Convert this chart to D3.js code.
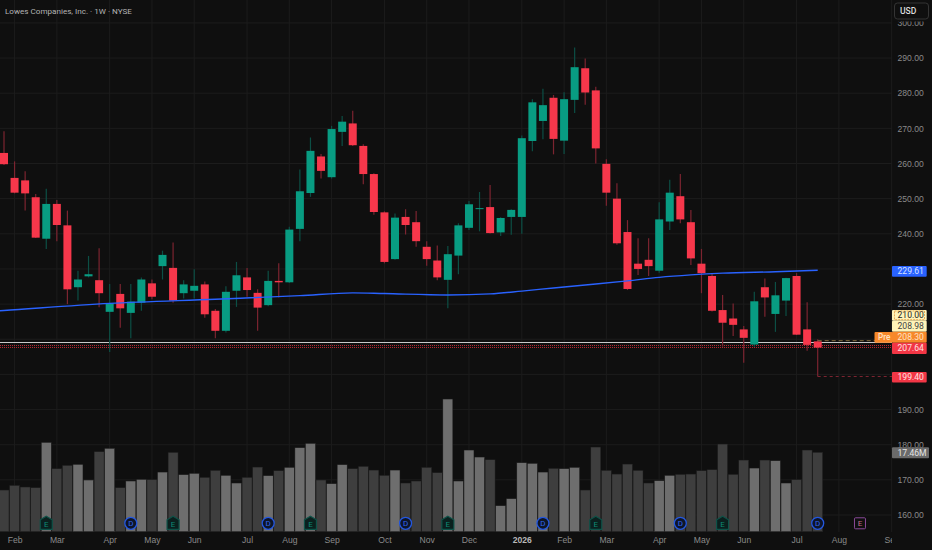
<!DOCTYPE html>
<html>
<head>
<meta charset="utf-8">
<title>Lowes Companies, Inc. 1W</title>
<style>
  html, body { margin: 0; padding: 0; background: #0f0f0f; overflow: hidden; }
  svg { display: block; font-family: Roboto, sans-serif; }
  .axis text { fill: #8a8a8a; font-size: 8.6px; }
</style>
</head>
<body>
<div id="container"></div>
<script src="https://cdn.jsdelivr.net/npm/d3@7/dist/d3.min.js"></script>
<script>
// weekly candles
const opens = [
  263.0, 255.9, 255.2, 250.4, 238.6, 248.5, 242.4, 224.8, 227.9, 226.8,
  217.8, 222.9, 217.5, 220.4, 225.9, 230.8, 230.3, 223.1, 223.8, 225.6,
  218.1, 212.4, 223.8, 227.6, 223.2, 219.7, 226.6, 226.2, 241.4, 251.6,
  262.0, 256.1, 269.0, 271.4, 265.0, 257.0, 246.1, 232.8, 244.8, 243.3,
  236.3, 232.4, 226.9, 233.8, 241.7, 247.1, 247.6, 240.4, 244.8, 244.8,
  266.4, 272.1, 278.7, 266.5, 278.1, 287.1, 280.8, 259.9, 250.0, 240.5,
  231.5, 232.6, 229.5, 243.5, 250.7, 243.3, 231.5, 228.0, 218.3, 215.9,
  212.8, 208.5, 224.8, 217.2, 221.0, 228.0, 212.8, 209.4
];
const highs = [
  269.2, 260.6, 257.8, 251.3, 252.8, 249.6, 246.6, 229.5, 233.7, 235.9,
  225.7, 225.7, 225.7, 227.6, 227.0, 235.2, 237.5, 226.8, 229.9, 226.4,
  218.6, 225.1, 232.0, 230.3, 224.2, 229.5, 231.6, 242.0, 258.3, 267.4,
  262.7, 270.7, 273.5, 275.0, 265.5, 257.2, 246.4, 245.8, 247.0, 246.5,
  237.9, 236.7, 236.5, 243.0, 249.3, 251.9, 253.9, 244.7, 247.0, 268.0,
  278.3, 281.3, 279.5, 280.3, 293.0, 289.9, 281.8, 261.2, 254.4, 243.9,
  238.7, 238.7, 249.0, 255.4, 257.0, 246.8, 235.7, 228.8, 222.6, 220.2,
  213.8, 223.5, 227.3, 226.3, 227.5, 228.8, 220.5, 210.0
];
const lows = [
  259.6, 251.5, 246.6, 238.8, 235.7, 237.9, 220.0, 221.0, 227.6, 219.1,
  206.4, 213.3, 210.3, 218.1, 221.4, 227.0, 220.4, 221.6, 221.6, 216.1,
  210.3, 211.9, 219.2, 222.1, 212.4, 219.4, 221.9, 226.0, 237.9, 250.5,
  255.7, 255.7, 265.0, 265.0, 254.1, 245.4, 231.6, 232.6, 239.8, 236.3,
  230.9, 226.8, 218.8, 228.5, 241.1, 240.7, 240.1, 239.4, 239.7, 240.0,
  263.5, 266.9, 262.6, 262.7, 274.4, 276.7, 260.0, 248.0, 236.9, 224.0,
  228.3, 228.0, 228.9, 241.1, 243.0, 231.1, 223.1, 217.9, 207.9, 210.9,
  203.3, 207.9, 216.4, 212.1, 216.6, 211.2, 206.7, 199.4
];
const closes = [
  259.8, 251.7, 251.5, 238.9, 248.5, 242.5, 224.2, 227.0, 228.5, 223.1,
  220.2, 218.8, 220.7, 227.0, 222.1, 234.0, 221.0, 225.6, 225.2, 217.1,
  212.4, 223.5, 228.2, 224.0, 219.0, 226.6, 226.2, 241.2, 252.1, 263.6,
  257.9, 269.8, 271.9, 265.2, 257.0, 246.2, 232.0, 244.6, 242.5, 237.9,
  232.8, 227.6, 234.2, 242.4, 248.4, 247.3, 240.2, 244.5, 246.8, 267.2,
  277.4, 276.6, 267.0, 278.3, 287.4, 280.2, 264.3, 251.7, 237.3, 224.3,
  230.0, 230.8, 244.1, 251.7, 244.1, 233.0, 228.8, 218.1, 214.7, 214.1,
  210.4, 220.8, 221.9, 222.5, 227.4, 211.3, 208.4, 207.64
];
// volume in millions
const volumes = [
  9.16, 10.18, 9.82, 9.67, 19.63, 13.85, 14.58, 14.8, 11.36, 17.58,
  18.32, 9.67, 11.14, 11.5, 11.43, 13.11, 17.44, 12.53, 12.82, 11.94,
  13.48, 12.38, 10.7, 11.94, 14.21, 12.31, 13.41, 14.14, 18.46, 19.41,
  11.36, 10.55, 14.73, 13.85, 14.36, 13.55, 12.38, 13.55, 10.7, 11.14,
  14.14, 12.97, 29.16, 11.14, 17.95, 16.41, 15.82, 5.71, 7.25, 15.16,
  15.02, 13.11, 13.92, 13.85, 14.14, 9.16, 18.61, 13.48, 12.67, 14.87,
  13.48, 10.7, 11.21, 12.38, 12.6, 12.67, 13.41, 13.63, 19.27, 12.6,
  15.75, 13.99, 15.75, 15.6, 10.7, 11.43, 17.95, 17.46
];

// moving average, read at a few weeks
const maWeeks = [-1, 0, 10, 20, 28, 33, 36, 42, 46, 49, 52, 56, 59, 62, 65, 68, 73, 77];
const maValues = [218.0, 218.2, 220.2, 221.4, 222.4, 223.2, 223.0, 222.6, 222.9, 223.7, 224.6, 225.7, 226.6, 227.6, 228.3, 228.8, 229.2, 229.61];

const priceTicks = [160, 170, 180, 190, 220, 240, 250, 260, 270, 280, 290, 300];
const gridPrices = [160, 170, 180, 190, 200, 210, 220, 230, 240, 250, 260, 270, 280, 290, 300];

const timeWeeks = [1, 5, 10, 14, 18, 23, 27, 31, 36, 40, 44, 49, 53, 57, 62, 66, 70, 75, 79, 84];
const timeLabels = ["Feb", "Mar", "Apr", "May", "Jun", "Jul", "Aug", "Sep", "Oct", "Nov", "Dec", "2026", "Feb", "Mar", "Apr", "May", "Jun", "Jul", "Aug", "Sep"];

const earningsWeeks = [4, 16, 29, 42, 56, 68];
const dividendWeeks = [12, 25, 38, 51, 64, 77];
const nextEarningsWeek = 81;

const width = 932, height = 550;
const plotRight = 892;
const timeTop = 532;

const green = "#089c82", red = "#f7374b";
const greenWick = "#0c4f45", redWick = "#7c2430";

const x = d3.scaleLinear().domain([0, 77]).range([4, 817.7]);
const y = d3.scaleLinear().domain([160, 300]).range([515, 22.9]);
const yVol = d3.scaleLinear().domain([0, 30]).range([timeTop - 0.3, timeTop - 0.3 - 136.5]);

const svg = d3.select("#container").append("svg")
  .attr("width", width)
  .attr("height", height);

const defs = svg.append("defs");
defs.append("clipPath").attr("id", "plot-clip")
  .append("rect").attr("width", plotRight).attr("height", timeTop);
defs.append("clipPath").attr("id", "time-clip")
  .append("rect").attr("y", -20).attr("width", plotRight).attr("height", 40);

svg.append("rect").attr("width", width).attr("height", height).attr("fill", "#0f0f0f");

// grid
svg.append("g").selectAll("line")
  .data(gridPrices).enter().append("line")
  .attr("x1", 0).attr("x2", plotRight)
  .attr("y1", d => y(d)).attr("y2", d => y(d))
  .attr("stroke", "#1c1c1c");
svg.append("g").selectAll("line")
  .data(timeWeeks).enter().append("line")
  .attr("x1", d => x(d)).attr("x2", d => x(d))
  .attr("y1", 0).attr("y2", timeTop)
  .attr("stroke", "#1c1c1c");

const plot = svg.append("g").attr("clip-path", "url(#plot-clip)");
const weeks = d3.range(opens.length);
const isUp = i => closes[i] >= opens[i];

// volume
plot.append("g").selectAll("rect")
  .data(weeks).enter().append("rect")
  .attr("x", i => x(i) - 5)
  .attr("width", 10)
  .attr("y", i => yVol(volumes[i]))
  .attr("height", i => yVol(0) - yVol(volumes[i]))
  .attr("fill", i => isUp(i) ? "#6e6e6e" : "#3e3e3e")
  .attr("stroke", "#1a1a1a")
  .attr("stroke-width", 0.5);

// level lines
plot.append("line")
  .attr("x1", 0).attr("x2", plotRight)
  .attr("y1", y(208.98)).attr("y2", y(208.98))
  .attr("stroke", "#c9c9c9")
  .attr("shape-rendering", "crispEdges");
[208.3, 207.64].forEach(p => {
  plot.append("line")
    .attr("x1", 0).attr("x2", plotRight)
    .attr("y1", y(p)).attr("y2", y(p))
    .attr("stroke", "#b3262f")
    .attr("stroke-dasharray", "1 1")
    .attr("shape-rendering", "crispEdges");
});

// wicks and bodies
plot.append("g").selectAll("line")
  .data(weeks).enter().append("line")
  .attr("x1", i => x(i)).attr("x2", i => x(i))
  .attr("y1", i => y(highs[i])).attr("y2", i => y(lows[i]))
  .attr("stroke", i => isUp(i) ? greenWick : redWick)
  .attr("stroke-width", 1.2);
plot.append("g").selectAll("rect")
  .data(weeks).enter().append("rect")
  .attr("x", i => x(i) - 4)
  .attr("width", 8)
  .attr("y", i => y(Math.max(opens[i], closes[i])))
  .attr("height", i => Math.max(1, Math.abs(y(opens[i]) - y(closes[i]))))
  .attr("fill", i => isUp(i) ? green : red);

// moving average
const maLine = d3.line()
  .x((d, i) => x(maWeeks[i]))
  .y(d => y(d))
  .curve(d3.curveMonotoneX);
plot.append("path")
  .attr("d", maLine(maValues))
  .attr("fill", "none")
  .attr("stroke", "#2962ff")
  .attr("stroke-width", 1.4);

// pre market and low dashes
plot.append("line")
  .attr("x1", x(77)).attr("x2", 875)
  .attr("y1", y(209.6)).attr("y2", y(209.6))
  .attr("stroke", "#80693c")
  .attr("stroke-dasharray", "4 3");
plot.append("line")
  .attr("x1", x(77)).attr("x2", plotRight)
  .attr("y1", y(199.4)).attr("y2", y(199.4))
  .attr("stroke", "#7c2430")
  .attr("stroke-dasharray", "3 3");

// event markers
const markerY = 523.3;
const earnings = svg.append("g").selectAll("g")
  .data(earningsWeeks).enter().append("g")
  .attr("transform", d => "translate(" + x(d) + "," + markerY + ")");
earnings.append("path")
  .attr("d", "M0,-7 L6,-3.5 L6,6 L-6,6 L-6,-3.5 Z")
  .attr("fill", "#0a201e")
  .attr("stroke", "#0e5248")
  .attr("stroke-width", 1.2);
earnings.append("text")
  .attr("text-anchor", "middle").attr("y", 3.5)
  .attr("font-size", 8).attr("fill", "#0d8a74")
  .text("E");

const dividends = svg.append("g").selectAll("g")
  .data(dividendWeeks).enter().append("g")
  .attr("transform", d => "translate(" + x(d) + "," + markerY + ")");
dividends.append("circle")
  .attr("r", 6)
  .attr("fill", "#0e1528")
  .attr("stroke", "#2458e0")
  .attr("stroke-width", 1.3);
dividends.append("text")
  .attr("text-anchor", "middle").attr("y", 3)
  .attr("font-size", 8).attr("fill", "#2f66f0")
  .text("D");

const nextEarnings = svg.append("g")
  .attr("transform", "translate(" + x(nextEarningsWeek) + "," + markerY + ")");
nextEarnings.append("rect")
  .attr("x", -5.5).attr("y", -5.5).attr("width", 11).attr("height", 11).attr("rx", 1)
  .attr("fill", "#0f0f0f").attr("stroke", "#8a4a9a");
nextEarnings.append("text")
  .attr("text-anchor", "middle").attr("y", 3)
  .attr("font-size", 8).attr("fill", "#c46a8a")
  .text("E");

// axes
const yAxis = d3.axisRight(y).tickValues(priceTicks).tickSize(0).tickPadding(0)
  .tickFormat(d3.format(".2f"));
svg.append("g").attr("class", "axis")
  .attr("transform", "translate(897.5,0)")
  .call(yAxis)
  .call(g => g.select(".domain").remove());

const xAxis = d3.axisBottom(x).tickValues(timeWeeks).tickSize(0).tickPadding(0)
  .tickFormat((d, i) => timeLabels[i]);
svg.append("g").attr("class", "axis")
  .attr("clip-path", "url(#time-clip)")
  .attr("transform", "translate(0,537)")
  .call(xAxis)
  .call(g => g.select(".domain").remove())
  .call(g => g.selectAll("text")
    .style("font-weight", (d, i) => timeLabels[i] === "2026" ? 700 : 400)
    .style("fill", (d, i) => timeLabels[i] === "2026" ? "#b8b8b8" : "#8a8a8a"));

// price tags on the right
const tagLabels = ["229.61", "210.00", "208.98", "208.30", "207.64", "199.40", "17.46M"];
const tagTops = [266, 310, 320.7, 331.7, 342.7, 372, 447.3];
const tagHeights = [10.7, 10.7, 11, 11, 11.4, 10.4, 11];
const tagWidths = [34.7, 34.7, 34.7, 34.7, 34.7, 34.7, 37];
const tagFills = ["#2962ff", "#fff3b8", "#fff3b8", "#f7882a", "#f23645", "#f23645", "#6a6a6a"];
const tagInks = ["#d7e2ff", "#1c1c1c", "#444444", "#ffe2c4", "#ffe0e0", "#ffe0e0", "#e4e4e4"];

const tags = svg.append("g").selectAll("g")
  .data(tagLabels).enter().append("g");
tags.append("rect")
  .attr("x", plotRight)
  .attr("y", (d, i) => tagTops[i])
  .attr("width", (d, i) => tagWidths[i])
  .attr("height", (d, i) => tagHeights[i])
  .attr("rx", 1)
  .attr("fill", (d, i) => tagFills[i]);
tags.append("text")
  .attr("x", 897.5)
  .attr("y", (d, i) => tagTops[i] + tagHeights[i] / 2 + 3)
  .attr("font-size", 8.6)
  .attr("fill", (d, i) => tagInks[i])
  .text(d => d);
svg.append("rect")
  .attr("x", 894.5).attr("y", 311).attr("width", 30).attr("height", 8.7)
  .attr("fill", "none").attr("stroke", "#e08a2a").attr("stroke-width", 0.7)
  .attr("stroke-dasharray", "2 1");

// Pre tag
svg.append("rect")
  .attr("x", 874.5).attr("y", 332).attr("width", 18).attr("height", 10.7).attr("rx", 1)
  .attr("fill", "#f7882a");
svg.append("text")
  .attr("x", 878).attr("y", 340)
  .attr("font-size", 8.2).attr("font-weight", 500).attr("fill", "#ffe2c4")
  .text("Pre");

// currency button
svg.append("rect")
  .attr("x", 893).attr("y", 3).attr("width", 37).attr("height", 18.5)
  .attr("fill", "#0f0f0f");
svg.append("rect")
  .attr("x", 894.5).attr("y", 3).attr("width", 34).attr("height", 16).attr("rx", 3)
  .attr("fill", "#0f0f0f").attr("stroke", "#343434");
svg.append("text")
  .attr("x", 900).attr("y", 14)
  .attr("font-size", 8.6).attr("font-weight", 500).attr("fill", "#dddddd")
  .text("USD");

// title
svg.append("text")
  .attr("x", 5).attr("y", 14)
  .attr("font-size", 8.1).attr("fill", "#b4b4b4")
  .text("Lowes Companies, Inc. · 1W · NYSE");
</script>
</body>
</html>
